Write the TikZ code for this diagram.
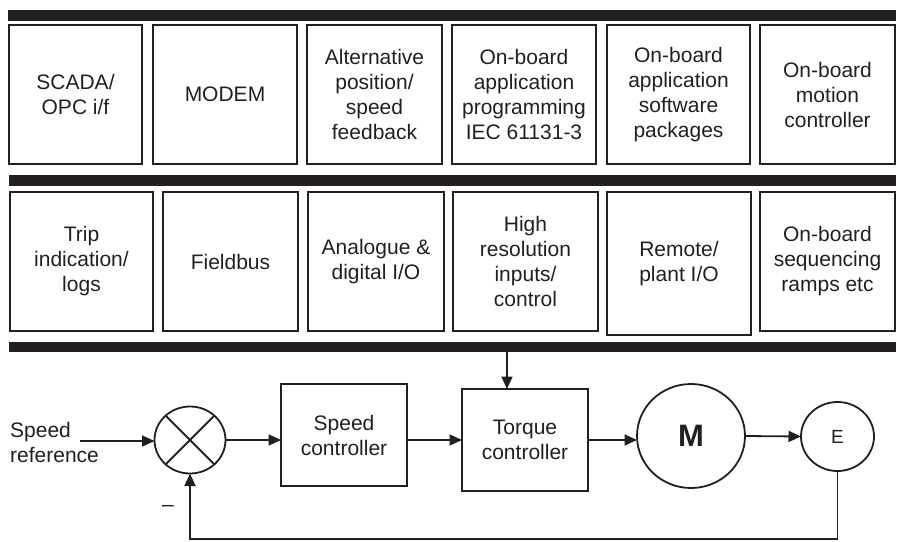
\documentclass[tikz,border=0pt]{standalone}
\usepackage{fontspec}
\setmainfont{Liberation Sans}
\usetikzlibrary{arrows.meta,shapes.geometric}
\definecolor{ink}{RGB}{35,31,32}
\tikzset{
  blk/.style={draw=ink, line width=1.8pt, inner sep=0pt, outer sep=0pt, align=center,
    text=ink, font=\fontsize{21}{25}\selectfont},
  barx/.style={fill=ink, draw=none, inner sep=0pt, outer sep=0pt, minimum width=887},
  arr/.style={draw=ink, line width=1.8pt, -{Triangle[length=12.5pt,width=11pt]}},
  wire/.style={draw=ink, line width=1.8pt},
  txt/.style={inner sep=0pt, text=ink, font=\fontsize{21}{25}\selectfont}
}
\begin{document}
\begin{tikzpicture}[x=1pt,y=-1pt]
\useasboundingbox (0,0) rectangle (897,541);
% bars
\node[barx, minimum width=888, minimum height=11] (bar1) at (452,15.5) {};
\node[barx, minimum width=887, minimum height=11] (bar2) at (452.5,180.5) {};
\node[barx, minimum width=887, minimum height=10] (bar3) at (452.5,347) {};
% row 1
\node[blk, minimum width=133, minimum height=139] (r1a) at (75.5,94.5) {SCADA/\\OPC i/f};
\node[blk, minimum width=144, minimum height=139] (r1b) at (225,94.5) {MODEM};
\node[blk, minimum width=135, minimum height=139] (r1c) at (374.5,94.5) {Alternative\\position/\\speed\\feedback};
\node[blk, minimum width=144, minimum height=139] (r1d) at (524,94.5) {On-board\\application\\programming\\IEC 61131-3};
\node[blk, minimum width=143, minimum height=139] (r1e) at (678.5,94.5) {On-board\\application\\software\\packages};
\node[blk, minimum width=135, minimum height=139] (r1f) at (827.5,94.5) {On-board\\motion\\controller};
% row 2
\node[blk, minimum width=143, minimum height=139] (r2a) at (81.5,261.5) {Trip\\indication/\\logs};
\node[blk, minimum width=135, minimum height=139] (r2b) at (230.5,261.5) {Fieldbus};
\node[blk, minimum width=136, minimum height=139] (r2c) at (376,261.5) {Analogue \&\\digital I/O};
\node[blk, minimum width=145, minimum height=139] (r2d) at (525.5,261.5) {High\\resolution\\inputs/\\control};
\node[blk, minimum width=144, minimum height=143] (r2e) at (679,263.5) {Remote/\\plant I/O};
\node[blk, minimum width=135, minimum height=139] (r2f) at (827.5,261.5) {On-board\\sequencing\\ramps etc};
% control loop
\node[txt, anchor=west, align=left] (sref) at (10,442) {Speed\\reference};
\node[blk, ellipse, minimum width=71, minimum height=67] (sum) at (190,440) {};
\draw[wire] (sum.135) -- (sum.-45);
\draw[wire] (sum.45) -- (sum.-135);
\node[blk, minimum width=126, minimum height=102] (spd) at (344,435) {Speed\\controller};
\node[blk, minimum width=126, minimum height=102] (trq) at (525,440) {Torque\\controller};
\node[blk, ellipse, minimum width=108, minimum height=104, font=\fontsize{31}{31}\selectfont\bfseries] (mot) at (691,436) {M};
\node[blk, ellipse, minimum width=73, minimum height=69, font=\fontsize{19}{19}\selectfont] (enc) at (837.5,436.5) {E};
\node[txt, anchor=north] (minus) at (168,505) {–};
% connectors
\coordinate (inp) at (80,441);
\draw[arr] (inp) -- (inp -| sum.west);
\draw[arr] (sum.east) -- (sum.east -| spd.west);
\draw[arr] (spd.east |- trq.west) -- (trq.west);
\draw[arr] (trq.east) -- (trq.east -| mot.west);
\draw[arr] (mot.east) -- (enc.west);
\coordinate (tin) at (507,352);
\draw[arr] (bar3.south -| tin) -- (tin |- trq.north);
\coordinate (fb) at (0,539);
\draw[arr] (enc.south) |- (fb -| sum.south) -- (sum.south);
\end{tikzpicture}
\end{document}
